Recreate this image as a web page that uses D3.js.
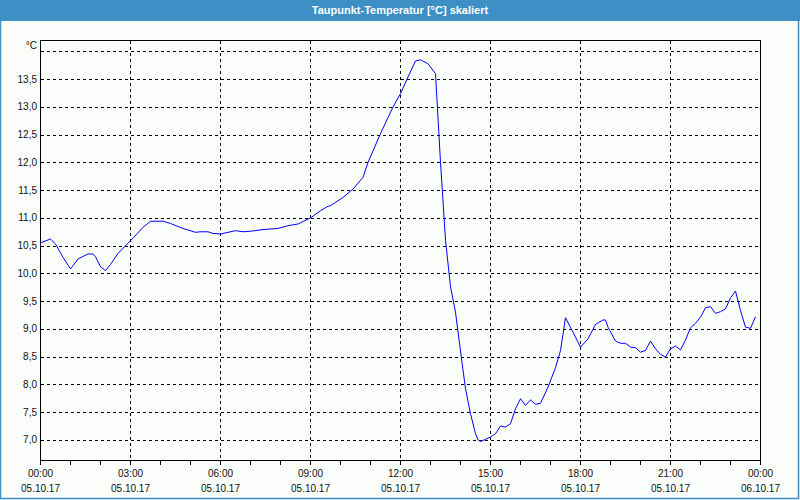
<!DOCTYPE html>
<html><head><meta charset="utf-8">
<script src="https://cdn.jsdelivr.net/npm/d3@7"></script>
<style>
html,body{margin:0;padding:0;background:#fbfdfb;}
svg{display:block;}
</style></head>
<body>
<svg id="chart" width="800" height="500"></svg>
<script>
// Data: minutes since 05.10.17 00:00 and dew point [°C]
const minutes = [0,20,30,45,60,75,95,105,110,120,130,140,155,180,205,220,245,260,285,310,320,335,345,360,375,390,405,420,445,475,495,515,540,560,575,580,605,625,645,655,680,705,720,735,750,760,775,790,800,810,820,830,840,850,860,870,875,880,890,900,910,920,930,940,950,960,970,980,990,1000,1015,1030,1040,1050,1065,1080,1095,1110,1125,1130,1135,1150,1160,1170,1180,1190,1200,1210,1220,1230,1240,1250,1260,1270,1280,1290,1300,1310,1320,1330,1340,1350,1360,1370,1380,1390,1400,1410,1420,1430];
const dewPoint = [10.55,10.62,10.53,10.29,10.08,10.26,10.35,10.35,10.30,10.12,10.05,10.16,10.36,10.59,10.83,10.94,10.94,10.90,10.81,10.74,10.75,10.75,10.72,10.71,10.74,10.77,10.75,10.76,10.79,10.81,10.86,10.89,11.00,11.13,11.21,11.22,11.37,11.52,11.73,12.00,12.52,13.00,13.24,13.54,13.83,13.85,13.78,13.60,12.00,10.60,9.76,9.30,8.60,7.92,7.47,7.11,7.00,6.97,7.01,7.05,7.11,7.25,7.23,7.29,7.56,7.74,7.62,7.72,7.64,7.66,7.95,8.30,8.61,9.20,8.94,8.67,8.82,9.08,9.16,9.16,9.03,8.78,8.74,8.74,8.67,8.66,8.58,8.61,8.78,8.64,8.54,8.49,8.64,8.69,8.62,8.80,9.02,9.10,9.21,9.38,9.40,9.28,9.31,9.36,9.56,9.68,9.33,9.03,9.01,9.22];
const yTicks = [7.0,7.5,8.0,8.5,9.0,9.5,10.0,10.5,11.0,11.5,12.0,12.5,13.0,13.5];
const yGrid = [7.0,7.5,8.0,8.5,9.0,9.5,10.0,10.5,11.0,11.5,12.0,12.5,13.0,13.5,14.0];
const xMajor = [0,180,360,540,720,900,1080,1260,1440];
const xTimeLabels = ["00:00","03:00","06:00","09:00","12:00","15:00","18:00","21:00","00:00"];
const xDateLabels = ["05.10.17","05.10.17","05.10.17","05.10.17","05.10.17","05.10.17","05.10.17","05.10.17","06.10.17"];
const xMinor = d3.range(0,1441,60);
const title = "Taupunkt-Temperatur [°C] skaliert";
const unit = "°C";

const svg = d3.select("#chart");
const L=40.5, R=760.5, T=40.5, B=460.5;
const x = d3.scaleLinear().domain([0,1440]).range([L,R]);
const y = d3.scaleLinear().domain([6.627,14.198]).range([B,T]);
const font = "'Liberation Sans', Arial, sans-serif";

// window frame
svg.append("rect").attr("x",0.5).attr("y",0.5).attr("width",798).attr("height",498)
  .attr("fill","#fbfdfb").attr("stroke","#3d8fc6").attr("stroke-width",1.5);
svg.append("rect").attr("x",0).attr("y",0).attr("width",800).attr("height",21).attr("fill","#3d8fc6");
svg.append("text").attr("x",400).attr("y",14).attr("text-anchor","middle")
  .attr("fill","#ffffff").attr("font-family",font).attr("font-size","11px").attr("font-weight","bold")
  .text(title);

// grid
const g = svg.append("g");
g.selectAll("line.hg").data(yGrid).enter().append("line")
  .attr("x1",L).attr("x2",R).attr("y1",d=>Math.round(y(d))+0.5).attr("y2",d=>Math.round(y(d))+0.5)
  .attr("stroke","#000").attr("stroke-dasharray","3,3").attr("shape-rendering","crispEdges");
g.selectAll("line.vg").data(xMajor.slice(1,-1)).enter().append("line")
  .attr("x1",d=>x(d)).attr("x2",d=>x(d)).attr("y1",T).attr("y2",B)
  .attr("stroke","#000").attr("stroke-dasharray","3,3").attr("shape-rendering","crispEdges");

// frame lines
g.append("path").attr("d",`M${L},${T}H${R}V${B}H${L}Z`).attr("fill","none")
  .attr("stroke","#000").attr("shape-rendering","crispEdges");

// x minor ticks
g.selectAll("line.xt").data(xMinor).enter().append("line")
  .attr("x1",d=>x(d)).attr("x2",d=>x(d)).attr("y1",B).attr("y2",B+4)
  .attr("stroke","#000").attr("shape-rendering","crispEdges");

// x labels
g.selectAll("text.xl").data(xMajor).enter().append("text")
  .attr("x",d=>x(d)).attr("y",477).attr("text-anchor","middle")
  .attr("font-family",font).attr("font-size","10px").attr("fill","#111")
  .text((d,i)=>xTimeLabels[i]);
g.selectAll("text.xd").data(xMajor).enter().append("text")
  .attr("x",d=>x(d)).attr("y",492).attr("text-anchor","middle")
  .attr("font-family",font).attr("font-size","10px").attr("fill","#111")
  .text((d,i)=>xDateLabels[i]);

// y labels
const fmt = d => d.toFixed(1).replace(".",",");
g.selectAll("text.yl").data(yTicks).enter().append("text")
  .attr("x",37).attr("y",d=>y(d)+3.5).attr("text-anchor","end")
  .attr("font-family",font).attr("font-size","10px").attr("fill","#111")
  .text(fmt);
g.append("text").attr("x",37).attr("y",48.5).attr("text-anchor","end")
  .attr("font-family",font).attr("font-size","10px").attr("fill","#111").text(unit);

// series
const pts = minutes.map((m,i)=>[m,dewPoint[i]]);
svg.append("path").datum(pts)
  .attr("d",d3.line().x(d=>x(d[0])).y(d=>y(d[1])))
  .attr("fill","none").attr("stroke","#0000ff").attr("stroke-width",1);
</script>
</body></html>
